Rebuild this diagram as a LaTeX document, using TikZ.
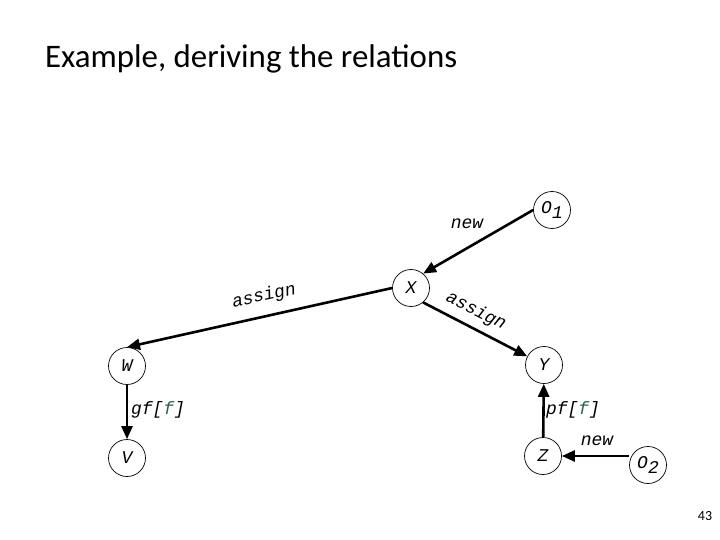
\documentclass[tikz,border=0pt]{standalone}
\usepackage{fontspec}
\setmainfont{Carlito}
\newfontfamily\monofam{Liberation Mono}
\usetikzlibrary{arrows.meta}
\definecolor{fteal}{RGB}{45,95,85}
\newcommand\lblfont{\monofam\itshape\fontsize{18}{20}\selectfont}
\begin{document}
\begin{tikzpicture}[x=1bp,y=-1bp,
  obj/.style={draw,circle,minimum size=37bp,inner sep=0pt,line width=0.7bp,font=\lblfont},
  edge/.style={line width=2.6bp,-{Triangle[length=13bp,width=11bp]}},
  lab/.style={font=\lblfont,inner sep=0pt}]
\useasboundingbox (0,0) rectangle (720,540);
\node[anchor=base west,font=\fontsize{33}{38}\selectfont,inner sep=0pt] (title) at (45,68) {Example, deriving the relations};
\node[obj] (O1) at (552,210) {O\raisebox{-5bp}{1}};
\node[obj] (X) at (411,288) {X};
\node[obj] (W) at (127,366) {W};
\node[obj] (V) at (127,458) {V};
\node[obj] (Y) at (544,365) {Y};
\node[obj] (Z) at (543,456) {Z};
\node[obj] (O2) at (648,465) {O\raisebox{-5bp}{2}};
\draw[edge] (O1.west) -- (X.50);
\draw[edge] (X.west) -- (W.north);
\draw[edge] (X.-50) -- (Y);
\draw[edge] (W) -- (V);
\draw[edge] (Z) -- (Y);
\draw[edge] (O2.west |- Z) -- (Z);
\node[lab] (l1) at (467,224) {new};
\node[lab,rotate=12] (l2) at (264,296) {assign};
\node[lab,rotate=-27] (l3) at (476,311) {assign};
\node[lab] (l4) at (158,410) {gf[\textcolor{fteal}{f}]};
\node[lab] (l5) at (573,410) {pf[\textcolor{fteal}{f}]};
\node[lab] (l6) at (597,441) {new};
\node[font=\fontsize{14}{16}\selectfont,inner sep=0pt] (pg) at (705,516) {43};
\end{tikzpicture}
\end{document}
